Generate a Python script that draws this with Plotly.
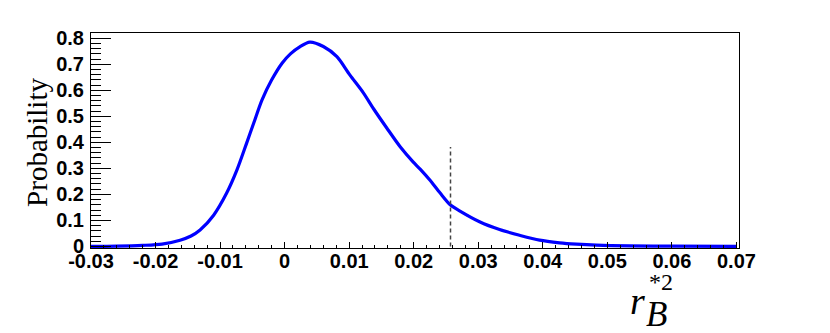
import plotly.graph_objects as go

# r_B^{*2} posterior probability curve
r_vals = [-0.030, -0.026, -0.022, -0.019, -0.0162, -0.0145, -0.0131, -0.0110,
          -0.0090, -0.0074, -0.0059, -0.0048, -0.0035, -0.0020, -0.0004, 0.0009,
          0.0024, 0.0039, 0.0060, 0.0081, 0.0101, 0.0122, 0.0138, 0.0158,
          0.0179, 0.0199, 0.0210, 0.0225, 0.0241, 0.0257, 0.0271, 0.0302,
          0.0333, 0.0364, 0.0395, 0.0426, 0.0452, 0.0483, 0.0535, 0.0600, 0.0700]
prob = [0.000, 0.001, 0.004, 0.009, 0.024, 0.040, 0.063, 0.120,
        0.204, 0.293, 0.396, 0.473, 0.563, 0.640, 0.704, 0.740,
        0.768, 0.785, 0.768, 0.729, 0.659, 0.590, 0.528, 0.456,
        0.383, 0.325, 0.297, 0.255, 0.205, 0.159, 0.137, 0.095,
        0.065, 0.043, 0.024, 0.014, 0.009, 0.005, 0.002, 0.001, 0.0005]

# dashed marker
cut_x = 0.0257
cut_top = 0.382

x_tickvals = [-0.03, -0.02, -0.01, 0, 0.01, 0.02, 0.03, 0.04, 0.05, 0.06, 0.07]
x_ticktext = ['-0.03', '-0.02', '-0.01', '0', '0.01', '0.02', '0.03', '0.04', '0.05', '0.06', '0.07']
y_tickvals = [0, 0.1, 0.2, 0.3, 0.4, 0.5, 0.6, 0.7, 0.8]
y_ticktext = ['0', '0.1', '0.2', '0.3', '0.4', '0.5', '0.6', '0.7', '0.8']

# ====================================

fig = go.Figure()

fig.add_trace(
    go.Scatter(
        x=r_vals, y=prob,
        mode='lines',
        line=dict(color='#0000ff', width=3.2, shape='spline', smoothing=0.8),
        showlegend=False
    )
)
fig.add_trace(
    go.Scatter(
        x=[cut_x, cut_x], y=[0, cut_top],
        mode='lines',
        line=dict(color='#444444', width=1.5, dash='4px,3px'),
        showlegend=False
    )
)

tick_font = dict(family='Liberation Sans, Arial', size=20, color='black', weight='bold')

fig.update_xaxes(
    range=[-0.03, 0.0704],
    tickvals=x_tickvals, ticktext=x_ticktext,
    ticks='inside', ticklen=6, tickwidth=1, tickcolor='black',
    minor=dict(dtick=0.002, ticks='inside', ticklen=3, tickcolor='black', showgrid=False),
    tickfont=tick_font,
    showline=True, linecolor='black', linewidth=1, mirror=True,
    showgrid=False, zeroline=False, automargin=False,
    ticklabelstandoff=-5
)
fig.update_yaxes(
    range=[-0.006, 0.82],
    tickvals=y_tickvals, ticktext=y_ticktext,
    ticks='inside', ticklen=20, tickwidth=1, tickcolor='black',
    minor=dict(dtick=0.02, ticks='inside', ticklen=10, tickcolor='black', showgrid=False),
    tickfont=tick_font,
    showline=True, linecolor='black', linewidth=1, mirror=True,
    showgrid=False, zeroline=False, automargin=False,
    ticklabelstandoff=2
)

# page body has an 8px margin, so the figure is 8px smaller than the window
serif = 'Liberation Serif, Times New Roman, serif'
fig.update_layout(
    width=822, height=325,
    paper_bgcolor='white',
    plot_bgcolor='white',
    margin=dict(t=25, b=85, l=83, r=91),
    annotations=[
        dict(text='Probability', xref='paper', yref='paper', x=-0.0826, y=0.491,
             textangle=-90, showarrow=False, xanchor='center', yanchor='middle',
             font=dict(family=serif, size=29, color='black')),
        dict(text='<i>r</i>', xref='paper', yref='paper', x=0.844, y=-0.245,
             showarrow=False, xanchor='center', yanchor='middle',
             font=dict(family=serif, size=38, color='black')),
        dict(text='*2', xref='paper', yref='paper', x=0.879, y=-0.156,
             showarrow=False, xanchor='center', yanchor='middle',
             font=dict(family=serif, size=24, color='black')),
        dict(text='<i>B</i>', xref='paper', yref='paper', x=0.873, y=-0.31,
             showarrow=False, xanchor='center', yanchor='middle',
             font=dict(family=serif, size=35, color='black')),
    ]
)

fig.write_html('out.html')
